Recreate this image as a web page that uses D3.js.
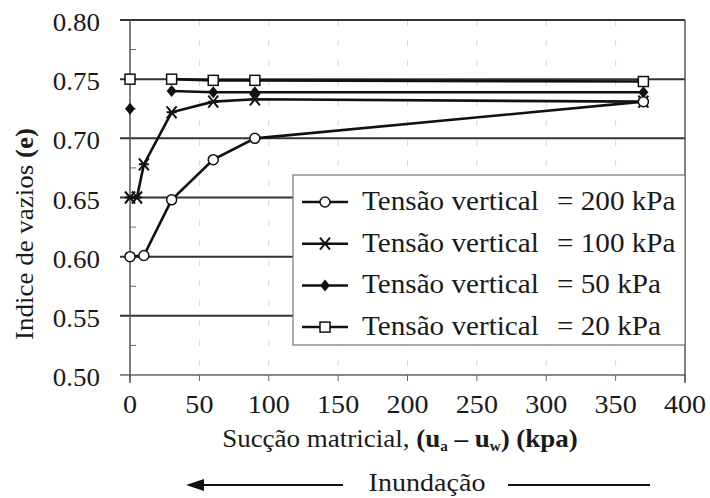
<!DOCTYPE html>
<html>
<head>
<meta charset="utf-8">
<script src="https://cdn.jsdelivr.net/npm/d3@7"></script>
<style>
  html, body { margin: 0; padding: 0; background: #fff; }
  svg { display: block; }
</style>
</head>
<body>
<svg id="chart" width="710" height="498"></svg>
<script>
// Void ratio (e) against matric suction for four vertical stresses
const suction200 = [0, 10, 30, 60, 90, 370];
const e200       = [0.600, 0.601, 0.648, 0.682, 0.700, 0.731];
const suction100 = [0, 5, 10, 30, 60, 90, 370];
const e100       = [0.650, 0.650, 0.678, 0.722, 0.731, 0.733, 0.731];
const suction50  = [0, 30, 60, 90, 370];
const e50        = [0.725, 0.740, 0.739, 0.739, 0.739];
const suction20  = [0, 30, 60, 90, 370];
const e20        = [0.750, 0.750, 0.749, 0.749, 0.748];

const seriesLabels = ["Tensão vertical", "Tensão vertical", "Tensão vertical", "Tensão vertical"];
const stressLabels = ["= 200 kPa", "= 100 kPa", "= 50 kPa", "= 20 kPa"];
const markerTypes  = ["circle", "cross", "diamond", "square"];
// index of the first point joined by the line (the initial point stands alone for 50 and 20 kPa)
const lineStart    = [0, 0, 1, 1];

const xTicks = [0, 50, 100, 150, 200, 250, 300, 350, 400];
const yTicks = [0.50, 0.55, 0.60, 0.65, 0.70, 0.75, 0.80];
const yMinor = [0.525, 0.575, 0.625, 0.675, 0.725, 0.775];

const series = [
  { x: suction200, y: e200 },
  { x: suction100, y: e100 },
  { x: suction50,  y: e50  },
  { x: suction20,  y: e20  }
].map((s, i) => ({
  points: s.x.map((v, j) => [v, s.y[j]]),
  label: seriesLabels[i],
  stress: stressLabels[i],
  marker: markerTypes[i],
  start: lineStart[i]
}));

const FONT = "Liberation Serif";
const INK = "#1a1a1a";
const STRETCH = 1.08; // glyphs are set slightly wide

const svg = d3.select("#chart");
const plotL = 130, plotR = 685, plotT = 20, plotB = 375;

const x = d3.scaleLinear().domain([0, 400]).range([plotL, plotR]);
const y = d3.scaleLinear().domain([0.50, 0.80]).range([plotB, plotT]);

// text placed at (tx, ty), widened along its baseline; appended straight to the svg root
function label(tx, ty, size, anchor, rotate = 0) {
  return svg.append("text")
    .attr("transform", `translate(${tx},${ty}) rotate(${rotate}) scale(${STRETCH},1)`)
    .attr("text-anchor", anchor)
    .attr("font-family", FONT)
    .attr("font-size", size)
    .attr("fill", INK);
}

// faint vertical guides
svg.append("g").selectAll("line").data(xTicks.slice(1, -1)).join("line")
  .attr("x1", d => x(d)).attr("x2", d => x(d))
  .attr("y1", plotT).attr("y2", plotB)
  .attr("stroke", "#d8d8d8").attr("stroke-width", 1)
  .attr("stroke-dasharray", "6,14");

// horizontal grid lines with outward tick stubs
svg.append("g").selectAll("line").data(yTicks.slice(1)).join("line")
  .attr("x1", plotL - 10).attr("x2", plotR)
  .attr("y1", d => y(d)).attr("y2", d => y(d))
  .attr("stroke", "#333").attr("stroke-width", 2);

// bottom axis line
svg.append("line")
  .attr("x1", plotL - 10).attr("x2", plotR)
  .attr("y1", y(0.50)).attr("y2", y(0.50))
  .attr("stroke", "#666").attr("stroke-width", 1.5);

// x ticks
svg.append("g").selectAll("line").data(xTicks).join("line")
  .attr("x1", d => x(d)).attr("x2", d => x(d))
  .attr("y1", y(0.50)).attr("y2", y(0.50) + 6)
  .attr("stroke", "#666").attr("stroke-width", 1);

// left and right frame lines
svg.append("line").attr("x1", plotL).attr("x2", plotL)
  .attr("y1", plotT).attr("y2", plotB + 8)
  .attr("stroke", "#555").attr("stroke-width", 1.5);
svg.append("line").attr("x1", plotR).attr("x2", plotR)
  .attr("y1", plotT).attr("y2", plotB + 8)
  .attr("stroke", "#555").attr("stroke-width", 1.5);

// minor y ticks
svg.append("g").selectAll("line").data(yMinor).join("line")
  .attr("x1", plotL).attr("x2", plotL + 6)
  .attr("y1", d => y(d)).attr("y2", d => y(d))
  .attr("stroke", "#666").attr("stroke-width", 1);

// y tick labels
yTicks.forEach(t => label(plotL - 30, y(t) + 11, 25, "end").text(t.toFixed(2)));

// x tick labels
xTicks.forEach(t => label(x(t), plotB + 38, 26, "middle").text(t));

// marker drawing
function drawMarker(g, type, cx, cy) {
  if (type === "circle") {
    g.append("circle").attr("cx", cx).attr("cy", cy).attr("r", 5)
      .attr("fill", "#fff").attr("stroke", "#111").attr("stroke-width", 1.5);
  } else if (type === "square") {
    g.append("rect").attr("x", cx - 5).attr("y", cy - 5).attr("width", 10).attr("height", 10)
      .attr("fill", "#fff").attr("stroke", "#111").attr("stroke-width", 1.5);
  } else if (type === "diamond") {
    g.append("path")
      .attr("d", `M${cx},${cy - 6}L${cx + 5},${cy}L${cx},${cy + 6}L${cx - 5},${cy}Z`)
      .attr("fill", "#111");
  } else if (type === "cross") {
    g.append("path")
      .attr("d", `M${cx - 5},${cy - 6}L${cx + 5},${cy + 6}M${cx + 5},${cy - 6}L${cx - 5},${cy + 6}M${cx - 5},${cy}L${cx + 5},${cy}`)
      .attr("stroke", "#111").attr("stroke-width", 2).attr("fill", "none");
  }
}

const line = d3.line().x(d => x(d[0])).y(d => y(d[1]));

// draw back-to-front: 20 kPa first
const plot = svg.append("g");
series.slice().reverse().forEach(s => {
  plot.append("path")
    .attr("d", line(s.points.slice(s.start)))
    .attr("fill", "none").attr("stroke", "#111").attr("stroke-width", 2.6);
});
series.slice().reverse().forEach(s => {
  s.points.forEach(p => drawMarker(plot, s.marker, x(p[0]), y(p[1])));
});

// legend box and keys
const lg = svg.append("g");
lg.append("rect").attr("x", 293).attr("y", 175).attr("width", plotR - 293).attr("height", 170)
  .attr("fill", "#fff").attr("stroke", "#777").attr("stroke-width", 1.2);
series.forEach((s, i) => {
  const by = 210 + i * 41.7;
  const my = by - 8;
  lg.append("line").attr("x1", 302).attr("x2", 348).attr("y1", my).attr("y2", my)
    .attr("stroke", "#111").attr("stroke-width", 2.5);
  drawMarker(lg, s.marker, 325, my);
});
// legend texts
series.forEach((s, i) => {
  const by = 210 + i * 41.7;
  label(362, by, 27, "start").text(s.label);
  label(557, by, 27, "start").text(s.stress);
});

// y axis title
const yt = label(33, 234, 25, "middle", -90);
yt.append("tspan").text("Indice de vazios  ");
yt.append("tspan").attr("font-weight", "bold").text("(e)");

// x axis title
const xt = label(400, 447, 25, "middle");
xt.append("tspan").text("Sucção matricial, ");
xt.append("tspan").attr("font-weight", "bold").text("(u");
xt.append("tspan").attr("font-weight", "bold").attr("font-size", 14).attr("dy", 4).text("a");
xt.append("tspan").attr("font-weight", "bold").attr("dy", -4).text(" – u");
xt.append("tspan").attr("font-weight", "bold").attr("font-size", 14).attr("dy", 4).text("w");
xt.append("tspan").attr("font-weight", "bold").attr("dy", -4).text(") (kpa)");

// flooding direction
label(427, 491, 26, "middle").text("Inundação");
svg.append("line").attr("x1", 196).attr("x2", 343).attr("y1", 485).attr("y2", 485)
  .attr("stroke", "#111").attr("stroke-width", 2);
svg.append("path").attr("d", "M186,485L204,479L204,491Z").attr("fill", "#111");
svg.append("line").attr("x1", 508).attr("x2", 650).attr("y1", 485).attr("y2", 485)
  .attr("stroke", "#111").attr("stroke-width", 2);
</script>
</body>
</html>
